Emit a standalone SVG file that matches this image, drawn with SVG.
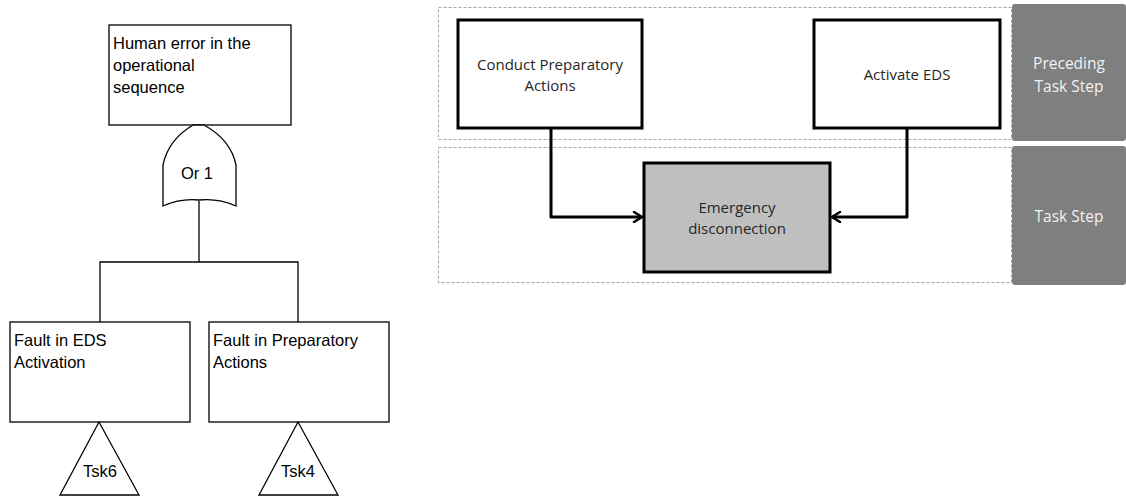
<svg xmlns="http://www.w3.org/2000/svg" width="1126" height="500" viewBox="0 0 1126 500">
  <style>
    .ft-box { fill: #ffffff; stroke: #000000; stroke-width: 1.3; }
    .ft-line { fill: none; stroke: #000000; stroke-width: 1.3; }
    .ft-text { font-family: "Liberation Sans", Arial, sans-serif; font-size: 16.5px; fill: #000000; }
    .lane { fill: none; stroke: #a6a6a6; stroke-width: 1; stroke-dasharray: 3 2; }
    .lane-label { fill: #7f7f7f; }
    .lane-text { font-family: "Open Sans", "Liberation Sans", sans-serif; font-size: 15.5px; fill: #f2f2f2; text-anchor: middle; }
    .task { fill: #ffffff; stroke: #000000; stroke-width: 3; }
    .task-main { fill: #bfbfbf; stroke: #000000; stroke-width: 3; }
    .task-text { font-family: "Open Sans", "Liberation Sans", sans-serif; font-size: 15px; fill: #262626; text-anchor: middle; }
    .flow { fill: none; stroke: #000000; stroke-width: 3; stroke-linejoin: round; }
  </style>
  <defs>
    <marker id="chevron" viewBox="0 0 12 12" refX="10" refY="6" markerWidth="12" markerHeight="12" markerUnits="userSpaceOnUse" orient="auto">
      <path d="M2,1 L10,6 L2,11" fill="none" stroke="#000000" stroke-width="2.5" stroke-linecap="round" stroke-linejoin="round"/>
    </marker>
  </defs>

  <!-- Fault tree: connectors -->
  <g id="fault-tree-connectors">
    <line class="ft-line" x1="199" y1="201" x2="199" y2="262"/>
    <polyline class="ft-line" points="100,322 100,262 298,262 298,322"/>
  </g>

  <!-- Fault tree: top event -->
  <g id="top-event">
    <rect class="ft-box" x="109" y="25" width="182" height="100"/>
    <text class="ft-text" x="113" y="49">Human error in the</text>
    <text class="ft-text" x="113" y="71">operational</text>
    <text class="ft-text" x="113" y="93">sequence</text>
  </g>

  <!-- Fault tree: OR gate -->
  <g id="or-gate">
    <path class="ft-box" d="M193,125 Q168,140 163,165 L163,206 Q181,198 199,200 Q218,198 236,206 L236,165 Q231,140 204,125 Z"/>
    <text class="ft-text" x="197" y="179" text-anchor="middle">Or 1</text>
  </g>

  <!-- Fault tree: basic events -->
  <g id="fault-eds">
    <rect class="ft-box" x="10" y="322" width="180" height="100"/>
    <text class="ft-text" x="14" y="346">Fault in EDS</text>
    <text class="ft-text" x="14" y="368">Activation</text>
  </g>
  <g id="fault-prep">
    <rect class="ft-box" x="209" y="322" width="180" height="100"/>
    <text class="ft-text" x="213" y="346">Fault in Preparatory</text>
    <text class="ft-text" x="213" y="368">Actions</text>
  </g>

  <!-- Fault tree: transfer triangles -->
  <g id="transfer-tsk6">
    <polygon class="ft-box" points="99,422 60,495 139,495"/>
    <text class="ft-text" x="100" y="477" text-anchor="middle">Tsk6</text>
  </g>
  <g id="transfer-tsk4">
    <polygon class="ft-box" points="298,422 259,495 338,495"/>
    <text class="ft-text" x="298" y="477" text-anchor="middle">Tsk4</text>
  </g>

  <!-- Task flow: swimlanes -->
  <g id="lane-preceding">
    <rect class="lane" x="438.5" y="7.5" width="573" height="132"/>
    <rect class="lane-label" x="1012" y="4" width="114" height="137" rx="3"/>
    <text class="lane-text" x="1069" y="69">Preceding</text>
    <text class="lane-text" x="1069" y="92">Task Step</text>
  </g>
  <g id="lane-task">
    <rect class="lane" x="438.5" y="147.5" width="573" height="135"/>
    <rect class="lane-label" x="1012" y="146" width="114" height="139" rx="3"/>
    <text class="lane-text" x="1069" y="222">Task Step</text>
  </g>

  <!-- Task flow: connectors -->
  <g id="flow-connectors">
    <polyline class="flow" points="551,128 551,217 642,217" marker-end="url(#chevron)"/>
    <polyline class="flow" points="907,128 907,217 832,217" marker-end="url(#chevron)"/>
  </g>

  <!-- Task flow: steps -->
  <g id="conduct-preparatory">
    <rect class="task" x="458" y="20" width="184" height="108"/>
    <text class="task-text" x="550" y="70">Conduct Preparatory</text>
    <text class="task-text" x="550" y="91">Actions</text>
  </g>
  <g id="activate-eds">
    <rect class="task" x="814" y="20" width="186" height="108"/>
    <text class="task-text" x="907" y="80">Activate EDS</text>
  </g>
  <g id="emergency-disconnection">
    <rect class="task-main" x="644" y="163" width="186" height="109"/>
    <text class="task-text" x="737" y="213">Emergency</text>
    <text class="task-text" x="737" y="234">disconnection</text>
  </g>
</svg>
